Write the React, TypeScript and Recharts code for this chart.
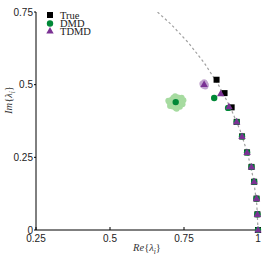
import React from "react";
import { ComposedChart, Legend, Scatter, XAxis, YAxis } from "recharts";

// eigenvalues (upper half plane only)
const trueRe = [1.0, 0.998, 0.995, 0.987, 0.978, 0.963, 0.946, 0.928, 0.911, 0.887, 0.86];
const trueIm = [0.0, 0.054, 0.108, 0.166, 0.217, 0.267, 0.322, 0.372, 0.422, 0.471, 0.517];

const dmdRe = [1.0, 0.998, 0.995, 0.987, 0.978, 0.963, 0.946, 0.928, 0.899, 0.852, 0.722];
const dmdIm = [0.0, 0.054, 0.108, 0.166, 0.217, 0.267, 0.322, 0.372, 0.42, 0.454, 0.44];

const tdmdRe = [1.0, 0.998, 0.995, 0.987, 0.978, 0.963, 0.946, 0.928, 0.902, 0.874, 0.818];
const tdmdIm = [0.0, 0.054, 0.108, 0.166, 0.217, 0.267, 0.322, 0.372, 0.424, 0.469, 0.501];

// spread of the noisy runs around the outlying modes
const dmdCloudRe = [0.7, 0.705, 0.708, 0.712, 0.714, 0.718, 0.72, 0.722, 0.724, 0.727, 0.73, 0.733, 0.736, 0.738, 0.741, 0.745, 0.748, 0.716, 0.729, 0.711, 0.734, 0.697, 0.703, 0.742, 0.725];
const dmdCloudIm = [0.44, 0.432, 0.448, 0.425, 0.455, 0.436, 0.46, 0.42, 0.447, 0.43, 0.456, 0.438, 0.424, 0.45, 0.441, 0.433, 0.446, 0.443, 0.442, 0.437, 0.449, 0.445, 0.427, 0.455, 0.417];

const tdmdCloudRe = [0.812, 0.816, 0.821, 0.824, 0.818, 0.814, 0.822];
const tdmdCloudIm = [0.503, 0.496, 0.505, 0.499, 0.508, 0.498, 0.494];

// unit circle guide
const arcRe = [1.0, 0.996, 0.985, 0.966, 0.94, 0.906, 0.866, 0.819, 0.766, 0.707, 0.643];
const arcIm = [0.0, 0.087, 0.174, 0.259, 0.342, 0.423, 0.5, 0.574, 0.643, 0.707, 0.766];

const xTicks = [0.25, 0.5, 0.75, 1];
const yTicks = [0, 0.25, 0.5, 0.75];

const legendNames = ["True", "DMD", "TDMD"];

const COLORS = {
  true: "#000000",
  dmd: "#008837",
  dmdLight: "#a6dba0",
  tdmd: "#7b3294",
  tdmdLight: "#c2a5cf",
  arc: "#a0a0a0",
};

const zip = (re: number[], im: number[]) => re.map((x, i) => ({ x, y: im[i] }));

const trueData = zip(trueRe, trueIm);
const dmdData = zip(dmdRe, dmdIm);
const tdmdData = zip(tdmdRe, tdmdIm);
const dmdCloud = zip(dmdCloudRe, dmdCloudIm);
const tdmdCloud = zip(tdmdCloudRe, tdmdCloudIm);
const arcData = zip(arcRe, arcIm);

const fmt = (v: number) => (v === 0 ? "0" : v === 1 ? "1" : String(v));

function SquareMark(props: any) {
  const { cx, cy } = props;
  return <rect x={cx - 3} y={cy - 3} width={6} height={6} fill={COLORS.true} />;
}

function CircleMark(props: any) {
  const { cx, cy } = props;
  return <circle cx={cx} cy={cy} r={3.2} fill={COLORS.dmd} />;
}

function TriangleMark(props: any) {
  const { cx, cy } = props;
  return <polygon points={`${cx},${cy - 4} ${cx - 3.7},${cy + 2.6} ${cx + 3.7},${cy + 2.6}`} fill={COLORS.tdmd} />;
}

function cloudDot(color: string) {
  return (props: any) => <circle cx={props.cx} cy={props.cy} r={3} fill={color} />;
}

function LegendBox() {
  const marks = [
    <rect key="s" x={3} y={3} width={6} height={6} fill={COLORS.true} />,
    <circle key="c" cx={6} cy={14.5} r={3.2} fill={COLORS.dmd} />,
    <polygon key="t" points="6,18 2.3,24.6 9.7,24.6" fill={COLORS.tdmd} />,
  ];
  const rows = [6, 14.5, 22];
  return (
    <svg width={70} height={30}>
      {marks}
      {legendNames.map((name, i) => (
        <text
          key={name}
          x={16}
          y={rows[i] + 3.6}
          fontFamily="Liberation Serif, serif"
          fontSize={10.5}
          fill="#222"
        >
          {name}
        </text>
      ))}
    </svg>
  );
}

function XLabel(props: any) {
  const { x, y, width } = props.viewBox;
  return (
    <text x={x + width / 2} y={y + 21} textAnchor="middle" fontFamily="Liberation Serif, serif" fontSize={10.5} fill="#333">
      <tspan fontStyle="italic">Re</tspan>
      <tspan>{"{"}</tspan>
      <tspan fontStyle="italic">λ</tspan>
      <tspan fontSize={7.5} dy={2.5} fontStyle="italic">i</tspan>
      <tspan dy={-2.5}>{"}"}</tspan>
    </text>
  );
}

function YLabel() {
  return (
    <text
      x={12}
      y={100}
      transform="rotate(-90, 12, 100)"
      textAnchor="middle"
      fontFamily="Liberation Serif, serif"
      fontSize={10.5}
      fill="#333"
    >
      <tspan fontStyle="italic">Im</tspan>
      <tspan>{"{"}</tspan>
      <tspan fontStyle="italic">λ</tspan>
      <tspan fontSize={7.5} dy={2.5} fontStyle="italic">i</tspan>
      <tspan dy={-2.5}>{"}"}</tspan>
    </text>
  );
}

const tickStyle = { fontFamily: "Liberation Sans, Arial, sans-serif", fontSize: 10, fill: "#222" };

export default function App() {
  return (
    <div style={{ position: "absolute", left: 0, top: 0, background: "#fff" }}>
      <ComposedChart width={266} height={256} margin={{ top: 12, right: 8, bottom: 0, left: 6 }}>
        <XAxis
          type="number"
          dataKey="x"
          domain={[0.25, 1]}
          ticks={xTicks}
          tickFormatter={fmt}
          height={26}
          tickSize={-3}
          tickMargin={8}
          stroke="#000"
          tick={tickStyle}
          label={<XLabel />}
        />
        <YAxis
          type="number"
          dataKey="y"
          domain={[0, 0.75]}
          ticks={yTicks}
          tickFormatter={fmt}
          width={30}
          tickSize={2}
          tickMargin={1}
          stroke="#000"
          tick={tickStyle}
          label={<YLabel />}
        />
        <YAxis yAxisId="arc" type="number" dataKey="y" domain={[0, 0.75]} allowDataOverflow hide />
        <Legend
          layout="vertical"
          align="center"
          verticalAlign="middle"
          content={<LegendBox />}
          wrapperStyle={{ left: 44, top: 9, width: 70, height: 30 }}
        />
        <Scatter
          yAxisId="arc"
          data={arcData}
          line={{ stroke: COLORS.arc, strokeWidth: 1.2, strokeDasharray: "2.5 2.5" }}
          shape={() => <g />}
          legendType="none"
          isAnimationActive={false}
        />
        <Scatter data={dmdCloud} shape={cloudDot(COLORS.dmdLight)} legendType="none" isAnimationActive={false} />
        <Scatter data={tdmdCloud} shape={cloudDot(COLORS.tdmdLight)} legendType="none" isAnimationActive={false} />
        <Scatter name="True" data={trueData} shape={<SquareMark />} isAnimationActive={false} />
        <Scatter name="DMD" data={dmdData} shape={<CircleMark />} isAnimationActive={false} />
        <Scatter name="TDMD" data={tdmdData} shape={<TriangleMark />} isAnimationActive={false} />
      </ComposedChart>
    </div>
  );
}
